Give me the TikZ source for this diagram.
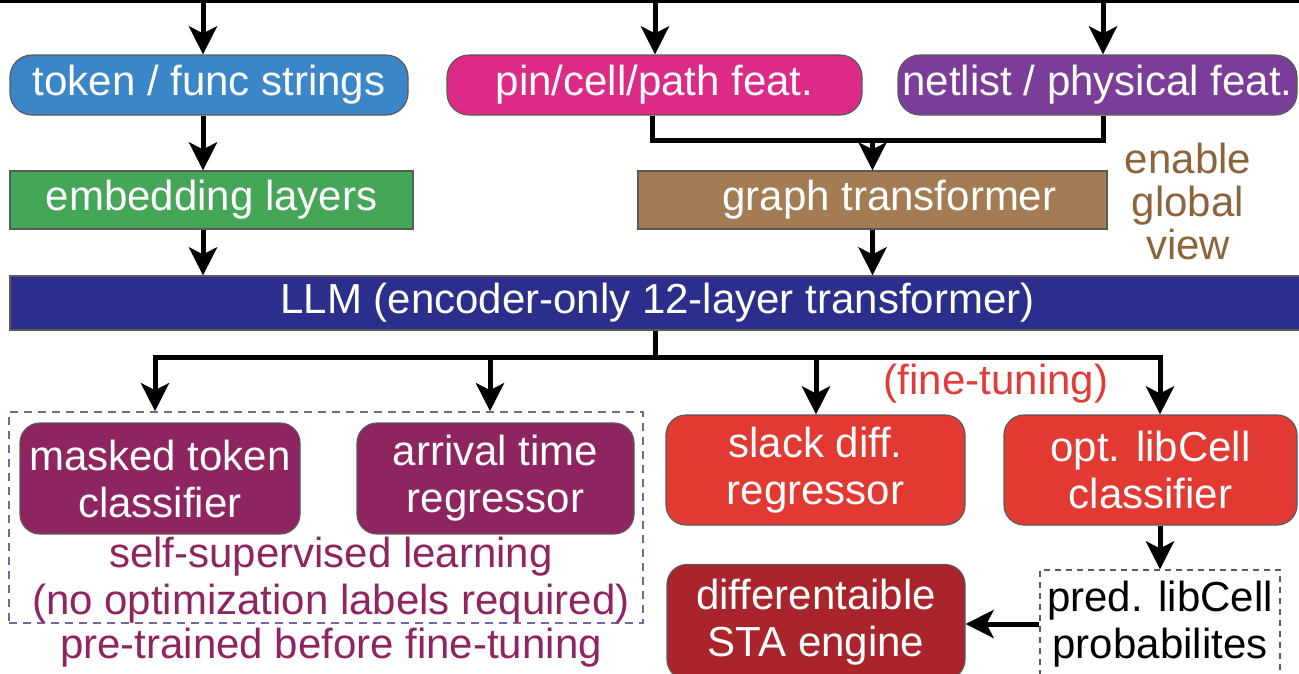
\documentclass[tikz,border=0pt]{standalone}
\usepackage{fontspec}
\setmainfont{Liberation Sans}
\usetikzlibrary{arrows.meta}
\definecolor{cToken}{RGB}{58,134,200}
\definecolor{cPin}{RGB}{221,42,135}
\definecolor{cNet}{RGB}{123,62,152}
\definecolor{cEmb}{RGB}{69,166,88}
\definecolor{cGraph}{RGB}{164,124,84}
\definecolor{cBrownText}{RGB}{140,100,60}
\definecolor{cLLM}{RGB}{44,46,140}
\definecolor{cPlum}{RGB}{142,36,96}
\definecolor{cRed}{RGB}{226,58,50}
\definecolor{cRedText}{RGB}{225,60,55}
\definecolor{cDRed}{RGB}{170,36,44}
\definecolor{cDash}{RGB}{120,100,160}
\definecolor{cBorder}{RGB}{90,90,90}
\begin{document}
\begin{tikzpicture}[x=1pt,y=-1pt,
  bigfont/.style={font=\fontsize{42}{47}\selectfont},
  sbox/.style={draw=cBorder, line width=1.2pt, text=white, bigfont, inner sep=0pt, align=center},
  rbox/.style={sbox, rounded corners=22pt},
  conn/.style={line width=5pt, line join=miter},
  arr/.style={conn, -{Stealth[length=28pt,width=28pt,inset=7pt]}},
  lbl/.style={bigfont, inner sep=0pt, align=center}]
\clip (0,0) rectangle (1299,673);

% input boxes
\node[rbox, fill=cToken, minimum width=398pt, minimum height=60pt] (token) at (209,85) {token / func strings};
\node[rbox, fill=cPin, minimum width=415pt, minimum height=60pt] (pin) at (654.5,85) {pin/cell/path feat.};
\node[rbox, fill=cNet, minimum width=399pt, minimum height=60pt] (net) at (1097.5,85) {netlist / physical feat.};

% second row
\node[sbox, fill=cEmb, minimum width=403pt, minimum height=58pt] (emb) at (211.5,200) {embedding layers};
\node[sbox, fill=cGraph, minimum width=469pt, minimum height=58pt] (graph) at (872.5,200) {\hspace*{34pt}graph transformer};
\node[lbl, text=cBrownText, font=\fontsize{42}{43}\selectfont] (enable) at (1188,201) {enable\\global\\view};

% LLM bar
\node[sbox, fill=cLLM, minimum width=1295pt, minimum height=54pt] (llm) at (657.5,303) {LLM (encoder-only 12-layer transformer)};

% pre-training group
\node[draw=cDash, line width=1.6pt, dash pattern=on 8pt off 6pt, minimum width=634pt, minimum height=211pt, inner sep=0pt] (group) at (326,517.5) {};
\node[rbox, rounded corners=20pt, fill=cPlum, minimum width=280pt, minimum height=111pt] (mask) at (160,478.5) {masked token\\classifier};
\node[rbox, rounded corners=20pt, fill=cPlum, minimum width=277pt, minimum height=111pt] (arrival) at (495.5,478.5) {arrival time\\regressor};
\node[lbl, text=cPlum] (ssl) at (331,580) {self-supervised learning\\(no optimization labels required)};
\node[lbl, text=cPlum] (pre) at (331,648) {pre-trained before fine-tuning};

% fine-tuning
\node[lbl, text=cRedText] (ft) at (996,384) {(fine-tuning)};
\node[rbox, rounded corners=20pt, fill=cRed, minimum width=299pt, minimum height=110pt] (slack) at (815.5,470) {slack diff.\\regressor};
\node[rbox, rounded corners=20pt, fill=cRed, minimum width=293pt, minimum height=110pt] (opt) at (1150.5,470) {opt. libCell\\classifier};
\node[rbox, rounded corners=20pt, fill=cDRed, minimum width=298pt, minimum height=115pt] (sta) at (816,622) {differentaible\\STA engine};
\node[draw=cBorder, line width=1.2pt, dash pattern=on 6pt off 5pt, inner sep=0pt, minimum width=240pt, minimum height=124pt] (pred) at (1160,632) {};
\node[lbl] (predtxt) at (1160,624) {pred. libCell\\probabilites};

% connectors from top
\coordinate (tl) at (0,1);
\coordinate (tr) at (1299,1);
\draw[line width=3pt] (tl) -- (tr);
\coordinate (a1) at (203,1);
\coordinate (a2) at (655,1);
\coordinate (a3) at (1103,1);
\draw[arr] (a1) -- (a1 |- token.north);
\draw[arr] (a2) -- (a2 |- pin.north);
\draw[arr] (a3) -- (a3 |- net.north);
\draw[arr] (token.south -| a1) -- (emb.north -| a1);
\draw[arr] (emb.south -| a1) -- (llm.north -| a1);

% merge to graph transformer
\coordinate (jL) at (652,140);
\coordinate (jR) at (1103,140);
\draw[conn] (pin.south -| jL) -- (jL) -- (jR) -- (net.south -| jR);
\draw[arr] (jL -| graph.north) -- (graph.north);
\draw[arr] (graph.south) -- (llm.north -| graph.south);

% outputs of LLM
\coordinate (bM) at (655,357);
\coordinate (bL) at (155,357);
\coordinate (b2) at (490,357);
\coordinate (b3) at (816,357);
\coordinate (bR) at (1160,357);
\draw[conn] (llm.south -| bM) -- (bM);
\draw[arr] (bM) -| (bL |- group.north);
\draw[arr] (bM) -| (bR |- opt.north);
\draw[arr] (b2) -- (b2 |- group.north);
\draw[arr] (b3) -- (b3 |- slack.north);
\draw[arr] (opt.south -| pred.north) -- (pred.north);
\draw[arr] (predtxt.west -| pred.west) -- (predtxt.west -| sta.east);
\end{tikzpicture}
\end{document}
